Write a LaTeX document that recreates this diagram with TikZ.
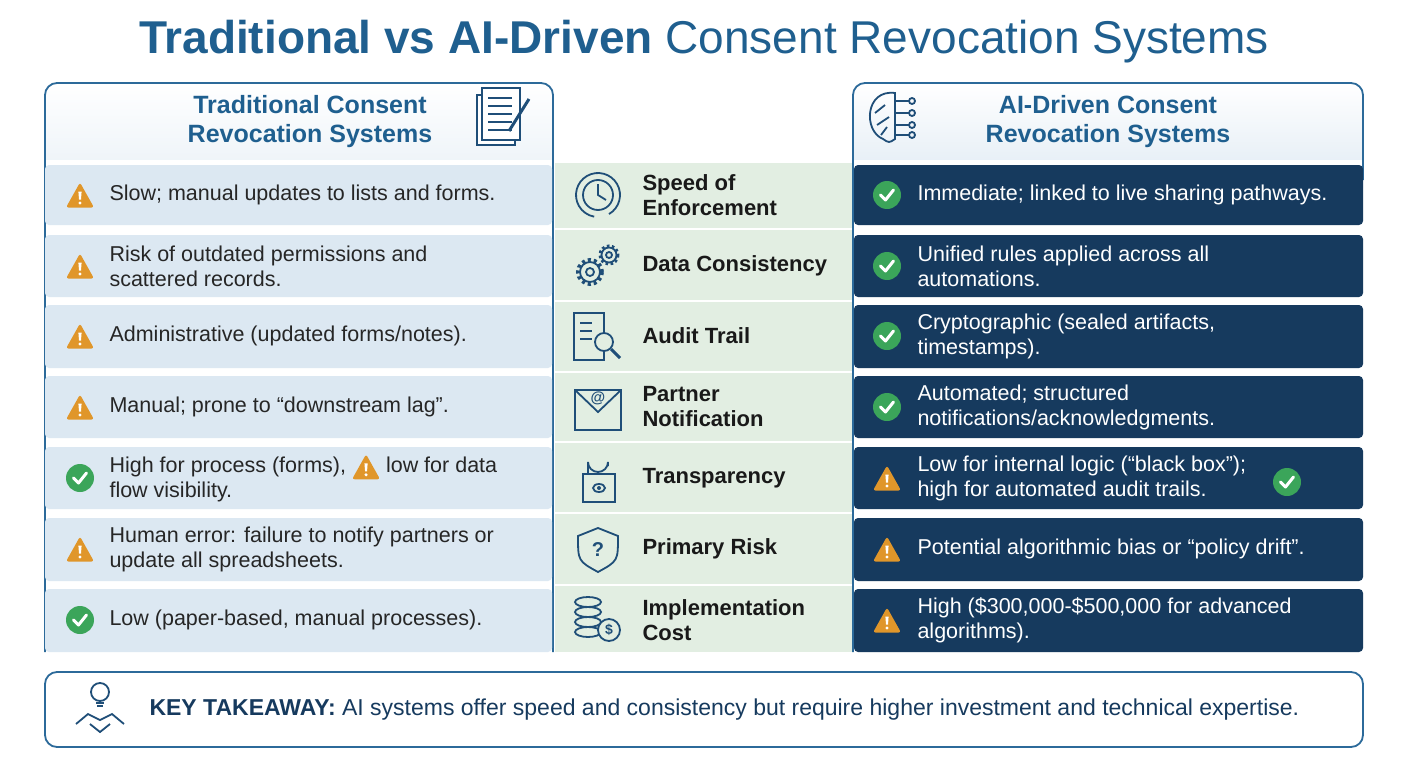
\documentclass[tikz,border=0pt]{standalone}
\usepackage{fontspec}
\setmainfont{Liberation Sans}
\usetikzlibrary{positioning}
\definecolor{titleblue}{HTML}{1F5F8F}
\definecolor{navy}{HTML}{163A5E}
\definecolor{edgeblue}{HTML}{2C6A9A}
\definecolor{leftrow}{HTML}{DCE8F2}
\definecolor{midrow}{HTML}{E2EEE2}
\definecolor{warnorange}{HTML}{E0962A}
\definecolor{okgreen}{HTML}{3BA55A}
\definecolor{iconblue}{HTML}{1F4E78}
\tikzset{
  leftbox/.style={fill=leftrow, rounded corners=4pt},
  rightbox/.style={fill=navy, rounded corners=4pt},
  rowtext/.style={anchor=west, align=left, font=\fontsize{21.5}{25}\selectfont, text=black!85},
  righttext/.style={rowtext, text=white},
  midtext/.style={anchor=west, align=left, font=\fontsize{22}{25}\selectfont\bfseries, text=black!90},
  headtext/.style={align=center, font=\fontsize{25}{29}\selectfont\bfseries, text=titleblue},
  icon/.style={draw=iconblue, line width=1.8pt}
}
\newcommand{\warnicon}{\tikz[baseline=-5pt,x=1pt,y=1pt]{\fill[warnorange, rounded corners=2.5pt] (-14,-12)--(14,-12)--(0,13)--cycle;
  \fill[white] (-1.6,4) -- (1.6,4) -- (1,-4) -- (-1,-4) -- cycle; \fill[white] (0,-7.5) circle (1.7);}}
\newcommand{\chkicon}{\tikz[baseline=-5pt,x=1pt,y=1pt]{\fill[okgreen] (0,0) circle (14);
  \draw[white, line width=3pt, line cap=round, line join=round] (-6.5,0)--(-1.5,-5)--(6.5,5);}}
\begin{document}
\begin{tikzpicture}[x=1pt,y=-1pt]
  \useasboundingbox (0,0) rectangle (1408,768);
  \fill[white] (0,0) rectangle (1408,768);

  % title
  \node[font=\fontsize{46}{48}\selectfont, text=titleblue] (title) at (704,42)
    {\textbf{Traditional vs AI-Driven} Consent Revocation Systems};

  % panels
  \fill[midrow] (555,163) rectangle (852,652);
  \shade[top color=white, bottom color=leftrow!70, rounded corners=12pt] (45,83) rectangle (553,200);
  \fill[white] (45,160) rectangle (553,200);
  \shade[top color=white, bottom color=leftrow, rounded corners=12pt] (853,83) rectangle (1363,200);
  \fill[white] (853,160) rectangle (1363,200);
  \draw[edgeblue, line width=1.8pt, rounded corners=12pt] (45,652) -- (45,83) -- (553,83) -- (553,652);
  \draw[edgeblue, line width=1.8pt, rounded corners=12pt] (853,652) -- (853,83) -- (1363,83) -- (1363,180);

  \node[headtext] (lefthead) at (310,122) {Traditional Consent\\Revocation Systems};
  \node[headtext] (righthead) at (1108,122) {AI-Driven Consent\\Revocation Systems};

  % document icon
  \begin{scope}[shift={(503,117)}, icon]
    \draw[fill=white] (-26,-22) rectangle (12,28);
    \draw[fill=white] (-21,-29) rectangle (17,23);
    \foreach \yy in {-19,-11,-3,5,13} \draw (-15,\yy) -- (9,\yy);
    \draw[line width=3pt] (26,-18) -- (6,14);
  \end{scope}
  % brain icon
  \begin{scope}[shift={(893,117)}, icon]
    \draw (2,-24) .. controls (-28,-28) and (-30,14) .. (-10,22) .. controls (-4,26) .. (2,22) -- cycle;
    \draw (-8,-12) -- (-18,-4) (-4,0) -- (-16,8) (-6,10) -- (-12,18);
    \foreach \yy in {-16,-4,8,18} {\draw (2,\yy) -- (16,\yy); \draw (19,\yy) circle (3);}
  \end{scope}

  % row backgrounds
  \foreach \yt/\yb in {165/225, 235/297, 305/368, 376/438, 447/509, 518/581, 589/652} {
    \fill[leftbox] (45,\yt) rectangle (552,\yb);
    \fill[rightbox] (854,\yt) rectangle (1363,\yb);
    \draw[white, line width=2pt] (555,\yb+4) -- (852,\yb+4);
  }

  % traditional column
  \foreach \y/\ic/\txt in {
    195/\warnicon/{Slow; manual updates to lists and forms.},
    266/\warnicon/{Risk of outdated permissions and\\scattered records.},
    336/\warnicon/{Administrative (updated forms/notes).},
    407/\warnicon/{Manual; prone to “downstream lag”.},
    478/\chkicon/{High for process (forms), \warnicon\ low for data\\flow visibility.},
    549/\warnicon/{Human error: failure to notify partners or\\update all spreadsheets.},
    620/\chkicon/{Low (paper-based, manual processes).}} {
    \node (li) at (80,\y) {\ic};
    \node[rowtext] at (106,\y) {\txt};
  }

  % AI column
  \foreach \y/\ic/\txt in {
    195/\chkicon/{Immediate; linked to live sharing pathways.},
    266/\chkicon/{Unified rules applied across all\\automations.},
    336/\chkicon/{Cryptographic (sealed artifacts,\\timestamps).},
    407/\chkicon/{Automated; structured\\notifications/acknowledgments.},
    478/\warnicon/{Low for internal logic (“black box”);\\high for automated audit trails.},
    549/\warnicon/{Potential algorithmic bias or “policy drift”.},
    620/\warnicon/{High (\$300,000-\$500,000 for advanced\\algorithms).}} {
    \node (ri) at (887,\y) {\ic};
    \node[righttext] at (914,\y) {\txt};
  }
  \node (extracheck) at (1287,482) {\chkicon};

  % criteria
  \foreach \y/\txt in {195/{Speed of\\Enforcement}, 266/{Data Consistency}, 336/{Audit Trail},
    407/{Partner\\Notification}, 478/{Transparency}, 549/{Primary Risk}, 620/{Implementation\\Cost}}
    \node[midtext] at (639,\y) {\txt};

  % criteria icons
  \begin{scope}[icon]
    % clock
    \draw (598,195) ++(60:22) arc (60:-260:22);
    \draw (598,195) circle (15);
    \draw (598,184) -- (598,195) -- (606,200);
    % gears
    \draw[line width=4pt, dash pattern=on 3pt off 3pt] (590,272) circle (12);
    \draw (590,272) circle (10) (590,272) circle (4);
    \draw[line width=3pt, dash pattern=on 2.5pt off 2.5pt] (609,255) circle (9);
    \draw (609,255) circle (7.5) (609,255) circle (3);
    % audit document
    \draw (574,313) rectangle (604,360);
    \foreach \yy in {323,331,339} \draw (580,\yy) -- (592,\yy);
    \draw[fill=midrow] (604,342) circle (9);
    \draw[line width=3pt] (611,349) -- (620,358);
    % envelope
    \draw (575,390) rectangle (621,430);
    \draw (575,390) -- (598,412) -- (621,390);
    \node[text=iconblue, font=\bfseries\fontsize{15}{15}\selectfont] at (598,398) {@};
    % padlock
    \draw (583,474) rectangle (615,502);
    \draw (588,474) -- (588,462) arc (180:0:10) -- (608,466);
    \draw (599,488) ellipse (6 and 4);
    \fill[iconblue] (599,488) circle (2);
    % shield
    \draw (598,528) -- (618,536) .. controls (618,561) .. (598,572) .. controls (578,561) .. (578,536) -- cycle;
    \node[text=iconblue, font=\bfseries\fontsize{20}{20}\selectfont] at (598,550) {?};
    % coins
    \foreach \yy in {602,612,622,632} \draw[fill=midrow] (588,\yy) ellipse (13 and 5);
    \draw[fill=midrow] (609,630) circle (11);
    \node[text=iconblue, font=\bfseries\fontsize{14}{14}\selectfont] at (609,630) {\$};
  \end{scope}

  % takeaway
  \draw[edgeblue, line width=1.8pt, fill=white, rounded corners=12pt] (45,672) rectangle (1363,747);
  \begin{scope}[shift={(100,710)}, icon]
    \draw (0,-18) circle (9);
    \draw (-4,-7) -- (4,-7) (-3,-4) -- (3,-4);
    \draw (-24,14) -- (-12,4) -- (0,10) -- (12,4) -- (24,14);
    \draw (-10,14) -- (0,22) -- (10,14);
  \end{scope}
  \node[anchor=west, font=\fontsize{23}{26}\selectfont, text=navy] (takeaway) at (146,710)
    {\textbf{KEY TAKEAWAY:} AI systems offer speed and consistency but require higher investment and technical expertise.};
\end{tikzpicture}
\end{document}
